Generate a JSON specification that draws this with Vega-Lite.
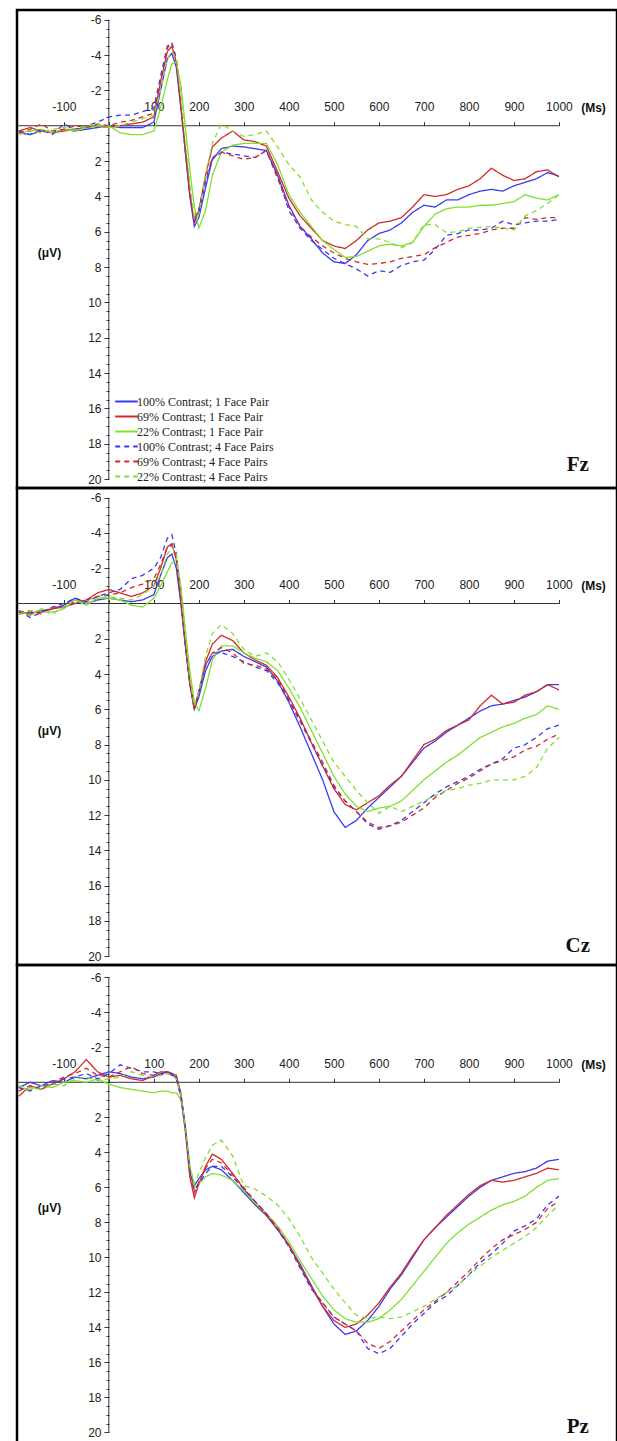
{
"$schema":"https://vega.github.io/schema/vega-lite/v6.json",
"padding":{"left":15,"top":8,"right":2,"bottom":0},
"spacing":0,
"bounds":"flush",
"background":"white",
"config":{"view":{"stroke":"#000","strokeWidth":2.5},"axis":{"labelFont":"Liberation Sans","labelFontSize":12,"labelColor":"#222","tickColor":"#333","grid":false,"titleFont":"Liberation Sans","titleFontSize":12,"titleFontWeight":"bold","titleColor":"#111"}},
"resolve":{"legend":{"color":"independent","strokeDash":"independent"}},
"datasets":{
"Fz":[
{"s":"b1","t":-200,"v":0.4},{"s":"b1","t":-175,"v":0.5},{"s":"b1","t":-150,"v":0.3},{"s":"b1","t":-125,"v":0.4},{"s":"b1","t":-100,"v":0.2},{"s":"b1","t":-75,"v":0.3},{"s":"b1","t":-50,"v":0.2},{"s":"b1","t":-25,"v":0.1},{"s":"b1","t":0,"v":0.0},{"s":"b1","t":25,"v":0.1},{"s":"b1","t":50,"v":0.1},{"s":"b1","t":75,"v":0.1},{"s":"b1","t":100,"v":-0.2},
{"s":"b1","t":115,"v":-2.0},{"s":"b1","t":130,"v":-3.8},{"s":"b1","t":140,"v":-4.1},{"s":"b1","t":150,"v":-3.3},{"s":"b1","t":160,"v":-1.0},{"s":"b1","t":170,"v":1.5},{"s":"b1","t":180,"v":4.0},{"s":"b1","t":190,"v":5.7},{"s":"b1","t":200,"v":5.2},{"s":"b1","t":215,"v":3.5},{"s":"b1","t":230,"v":1.9},
{"s":"b1","t":250,"v":1.3},{"s":"b1","t":275,"v":1.15},{"s":"b1","t":300,"v":1.2},{"s":"b1","t":325,"v":1.3},{"s":"b1","t":350,"v":1.4},{"s":"b1","t":375,"v":2.8},{"s":"b1","t":400,"v":4.5},{"s":"b1","t":425,"v":5.7},{"s":"b1","t":450,"v":6.4},{"s":"b1","t":475,"v":7.2},{"s":"b1","t":500,"v":7.7},{"s":"b1","t":525,"v":7.8},{"s":"b1","t":550,"v":7.3},{"s":"b1","t":575,"v":6.5},{"s":"b1","t":600,"v":6.1},{"s":"b1","t":625,"v":5.9},{"s":"b1","t":650,"v":5.5},{"s":"b1","t":675,"v":4.9},{"s":"b1","t":700,"v":4.5},{"s":"b1","t":725,"v":4.6},{"s":"b1","t":750,"v":4.2},{"s":"b1","t":775,"v":4.2},{"s":"b1","t":800,"v":3.9},{"s":"b1","t":825,"v":3.7},{"s":"b1","t":850,"v":3.6},{"s":"b1","t":875,"v":3.7},{"s":"b1","t":900,"v":3.4},{"s":"b1","t":925,"v":3.2},{"s":"b1","t":950,"v":3.0},{"s":"b1","t":975,"v":2.65},{"s":"b1","t":1000,"v":2.85},
{"s":"r1","t":-200,"v":0.3},{"s":"r1","t":-175,"v":0.1},{"s":"r1","t":-150,"v":0.3},{"s":"r1","t":-125,"v":0.4},{"s":"r1","t":-100,"v":0.3},{"s":"r1","t":-75,"v":0.2},{"s":"r1","t":-50,"v":0.1},{"s":"r1","t":-25,"v":0.0},{"s":"r1","t":0,"v":0.1},{"s":"r1","t":25,"v":0.0},{"s":"r1","t":50,"v":-0.1},{"s":"r1","t":75,"v":-0.2},{"s":"r1","t":100,"v":-0.5},
{"s":"r1","t":115,"v":-2.5},{"s":"r1","t":130,"v":-4.2},{"s":"r1","t":140,"v":-4.5},{"s":"r1","t":150,"v":-3.6},{"s":"r1","t":160,"v":-1.2},{"s":"r1","t":170,"v":1.3},{"s":"r1","t":180,"v":3.8},{"s":"r1","t":190,"v":5.5},{"s":"r1","t":200,"v":4.8},{"s":"r1","t":215,"v":2.8},{"s":"r1","t":230,"v":1.2},
{"s":"r1","t":250,"v":0.7},{"s":"r1","t":275,"v":0.3},{"s":"r1","t":300,"v":0.8},{"s":"r1","t":325,"v":0.9},{"s":"r1","t":350,"v":1.15},{"s":"r1","t":375,"v":2.6},{"s":"r1","t":400,"v":4.1},{"s":"r1","t":425,"v":5.1},{"s":"r1","t":450,"v":5.8},{"s":"r1","t":475,"v":6.5},{"s":"r1","t":500,"v":6.8},{"s":"r1","t":525,"v":6.95},{"s":"r1","t":550,"v":6.5},{"s":"r1","t":575,"v":5.9},{"s":"r1","t":600,"v":5.5},{"s":"r1","t":625,"v":5.4},{"s":"r1","t":650,"v":5.2},{"s":"r1","t":675,"v":4.6},{"s":"r1","t":700,"v":3.9},{"s":"r1","t":725,"v":4.0},{"s":"r1","t":750,"v":3.9},{"s":"r1","t":775,"v":3.6},{"s":"r1","t":800,"v":3.4},{"s":"r1","t":825,"v":3.0},{"s":"r1","t":850,"v":2.4},{"s":"r1","t":875,"v":2.8},{"s":"r1","t":900,"v":3.1},{"s":"r1","t":925,"v":3.0},{"s":"r1","t":950,"v":2.6},{"s":"r1","t":975,"v":2.5},{"s":"r1","t":1000,"v":2.9},
{"s":"g1","t":-200,"v":0.4},{"s":"g1","t":-175,"v":0.3},{"s":"g1","t":-150,"v":0.2},{"s":"g1","t":-125,"v":0.4},{"s":"g1","t":-100,"v":0.2},{"s":"g1","t":-75,"v":0.3},{"s":"g1","t":-50,"v":0.1},{"s":"g1","t":-25,"v":0.0},{"s":"g1","t":0,"v":0.0},{"s":"g1","t":25,"v":0.4},{"s":"g1","t":50,"v":0.5},{"s":"g1","t":75,"v":0.5},{"s":"g1","t":100,"v":0.3},
{"s":"g1","t":115,"v":-1.0},{"s":"g1","t":130,"v":-2.6},{"s":"g1","t":140,"v":-3.5},{"s":"g1","t":150,"v":-3.6},{"s":"g1","t":160,"v":-2.3},{"s":"g1","t":170,"v":0.0},{"s":"g1","t":180,"v":2.5},{"s":"g1","t":190,"v":4.6},{"s":"g1","t":200,"v":5.8},{"s":"g1","t":215,"v":4.8},{"s":"g1","t":230,"v":2.8},
{"s":"g1","t":250,"v":1.5},{"s":"g1","t":275,"v":1.1},{"s":"g1","t":300,"v":1.0},{"s":"g1","t":325,"v":1.0},{"s":"g1","t":350,"v":1.0},{"s":"g1","t":375,"v":2.2},{"s":"g1","t":400,"v":3.9},{"s":"g1","t":425,"v":4.9},{"s":"g1","t":450,"v":5.7},{"s":"g1","t":475,"v":6.5},{"s":"g1","t":500,"v":7.0},{"s":"g1","t":525,"v":7.45},{"s":"g1","t":550,"v":7.4},{"s":"g1","t":575,"v":7.1},{"s":"g1","t":600,"v":6.8},{"s":"g1","t":625,"v":6.7},{"s":"g1","t":650,"v":6.8},{"s":"g1","t":675,"v":6.6},{"s":"g1","t":700,"v":5.7},{"s":"g1","t":725,"v":5.0},{"s":"g1","t":750,"v":4.7},{"s":"g1","t":775,"v":4.6},{"s":"g1","t":800,"v":4.6},{"s":"g1","t":825,"v":4.5},{"s":"g1","t":850,"v":4.5},{"s":"g1","t":875,"v":4.4},{"s":"g1","t":900,"v":4.3},{"s":"g1","t":925,"v":3.9},{"s":"g1","t":950,"v":4.1},{"s":"g1","t":975,"v":4.2},{"s":"g1","t":1000,"v":3.9},
{"s":"b4","t":-200,"v":0.3},{"s":"b4","t":-175,"v":0.5},{"s":"b4","t":-150,"v":0.2},{"s":"b4","t":-125,"v":0.5},{"s":"b4","t":-100,"v":-0.1},{"s":"b4","t":-75,"v":0.2},{"s":"b4","t":-50,"v":0.0},{"s":"b4","t":-25,"v":-0.2},{"s":"b4","t":0,"v":-0.5},{"s":"b4","t":25,"v":-0.6},{"s":"b4","t":50,"v":-0.6},{"s":"b4","t":75,"v":-0.8},{"s":"b4","t":100,"v":-1.0},
{"s":"b4","t":115,"v":-2.8},{"s":"b4","t":130,"v":-4.5},{"s":"b4","t":140,"v":-4.7},{"s":"b4","t":150,"v":-3.8},{"s":"b4","t":160,"v":-1.2},{"s":"b4","t":170,"v":1.4},{"s":"b4","t":180,"v":3.8},{"s":"b4","t":190,"v":5.4},{"s":"b4","t":200,"v":4.9},{"s":"b4","t":215,"v":3.2},{"s":"b4","t":230,"v":1.9},
{"s":"b4","t":250,"v":1.5},{"s":"b4","t":275,"v":1.6},{"s":"b4","t":300,"v":1.7},{"s":"b4","t":325,"v":1.8},{"s":"b4","t":350,"v":1.4},{"s":"b4","t":375,"v":2.8},{"s":"b4","t":400,"v":4.8},{"s":"b4","t":425,"v":5.8},{"s":"b4","t":450,"v":6.5},{"s":"b4","t":475,"v":7.0},{"s":"b4","t":500,"v":7.5},{"s":"b4","t":525,"v":7.8},{"s":"b4","t":550,"v":8.1},{"s":"b4","t":575,"v":8.5},{"s":"b4","t":600,"v":8.2},{"s":"b4","t":625,"v":8.3},{"s":"b4","t":650,"v":7.9},{"s":"b4","t":675,"v":7.7},{"s":"b4","t":700,"v":7.6},{"s":"b4","t":725,"v":7.0},{"s":"b4","t":750,"v":6.2},{"s":"b4","t":775,"v":6.1},{"s":"b4","t":800,"v":5.9},{"s":"b4","t":825,"v":5.9},{"s":"b4","t":850,"v":5.8},{"s":"b4","t":875,"v":5.4},{"s":"b4","t":900,"v":5.6},{"s":"b4","t":925,"v":5.5},{"s":"b4","t":950,"v":5.4},{"s":"b4","t":975,"v":5.4},{"s":"b4","t":1000,"v":5.3},
{"s":"r4","t":-200,"v":0.4},{"s":"r4","t":-175,"v":0.2},{"s":"r4","t":-150,"v":-0.1},{"s":"r4","t":-125,"v":0.3},{"s":"r4","t":-100,"v":0.2},{"s":"r4","t":-75,"v":0.0},{"s":"r4","t":-50,"v":0.1},{"s":"r4","t":-25,"v":-0.1},{"s":"r4","t":0,"v":0.0},{"s":"r4","t":25,"v":-0.2},{"s":"r4","t":50,"v":-0.3},{"s":"r4","t":75,"v":-0.5},{"s":"r4","t":100,"v":-0.7},
{"s":"r4","t":115,"v":-2.5},{"s":"r4","t":130,"v":-4.4},{"s":"r4","t":140,"v":-4.7},{"s":"r4","t":150,"v":-3.7},{"s":"r4","t":160,"v":-1.1},{"s":"r4","t":170,"v":1.4},{"s":"r4","t":180,"v":3.9},{"s":"r4","t":190,"v":5.3},{"s":"r4","t":200,"v":4.7},{"s":"r4","t":215,"v":3.0},{"s":"r4","t":230,"v":1.8},
{"s":"r4","t":250,"v":1.5},{"s":"r4","t":275,"v":1.7},{"s":"r4","t":300,"v":1.9},{"s":"r4","t":325,"v":1.8},{"s":"r4","t":350,"v":1.4},{"s":"r4","t":375,"v":3.0},{"s":"r4","t":400,"v":4.6},{"s":"r4","t":425,"v":5.7},{"s":"r4","t":450,"v":6.3},{"s":"r4","t":475,"v":6.8},{"s":"r4","t":500,"v":7.2},{"s":"r4","t":525,"v":7.5},{"s":"r4","t":550,"v":7.7},{"s":"r4","t":575,"v":7.85},{"s":"r4","t":600,"v":7.8},{"s":"r4","t":625,"v":7.7},{"s":"r4","t":650,"v":7.5},{"s":"r4","t":675,"v":7.4},{"s":"r4","t":700,"v":7.3},{"s":"r4","t":725,"v":6.9},{"s":"r4","t":750,"v":6.6},{"s":"r4","t":775,"v":6.3},{"s":"r4","t":800,"v":6.2},{"s":"r4","t":825,"v":6.1},{"s":"r4","t":850,"v":5.9},{"s":"r4","t":875,"v":5.8},{"s":"r4","t":900,"v":5.8},{"s":"r4","t":925,"v":5.2},{"s":"r4","t":950,"v":5.3},{"s":"r4","t":975,"v":5.2},{"s":"r4","t":1000,"v":5.2},
{"s":"g4","t":-200,"v":0.5},{"s":"g4","t":-175,"v":0.3},{"s":"g4","t":-150,"v":0.4},{"s":"g4","t":-125,"v":0.2},{"s":"g4","t":-100,"v":0.1},{"s":"g4","t":-75,"v":0.2},{"s":"g4","t":-50,"v":0.0},{"s":"g4","t":-25,"v":-0.1},{"s":"g4","t":0,"v":0.1},{"s":"g4","t":25,"v":0.0},{"s":"g4","t":50,"v":-0.2},{"s":"g4","t":75,"v":-0.4},{"s":"g4","t":100,"v":-0.6},
{"s":"g4","t":115,"v":-2.0},{"s":"g4","t":130,"v":-3.8},{"s":"g4","t":140,"v":-4.2},{"s":"g4","t":150,"v":-3.8},{"s":"g4","t":160,"v":-1.8},{"s":"g4","t":170,"v":0.8},{"s":"g4","t":180,"v":3.3},{"s":"g4","t":190,"v":5.2},{"s":"g4","t":200,"v":5.0},{"s":"g4","t":215,"v":2.8},{"s":"g4","t":230,"v":1.0},
{"s":"g4","t":250,"v":-0.1},{"s":"g4","t":275,"v":0.3},{"s":"g4","t":300,"v":0.6},{"s":"g4","t":325,"v":0.5},{"s":"g4","t":350,"v":0.3},{"s":"g4","t":375,"v":1.2},{"s":"g4","t":400,"v":2.2},{"s":"g4","t":425,"v":2.9},{"s":"g4","t":450,"v":4.2},{"s":"g4","t":475,"v":4.9},{"s":"g4","t":500,"v":5.4},{"s":"g4","t":525,"v":5.6},{"s":"g4","t":550,"v":5.7},{"s":"g4","t":575,"v":6.4},{"s":"g4","t":600,"v":6.4},{"s":"g4","t":625,"v":6.6},{"s":"g4","t":650,"v":6.9},{"s":"g4","t":675,"v":6.6},{"s":"g4","t":700,"v":5.6},{"s":"g4","t":725,"v":5.6},{"s":"g4","t":750,"v":6.05},{"s":"g4","t":775,"v":6.0},{"s":"g4","t":800,"v":5.8},{"s":"g4","t":825,"v":5.75},{"s":"g4","t":850,"v":5.7},{"s":"g4","t":875,"v":5.8},{"s":"g4","t":900,"v":5.9},{"s":"g4","t":925,"v":5.1},{"s":"g4","t":950,"v":4.8},{"s":"g4","t":975,"v":4.4},{"s":"g4","t":1000,"v":3.9}
],
"Cz":[
{"s":"b1","t":-200,"v":0.5},{"s":"b1","t":-175,"v":0.6},{"s":"b1","t":-150,"v":0.4},{"s":"b1","t":-125,"v":0.3},{"s":"b1","t":-100,"v":0.1},{"s":"b1","t":-75,"v":-0.3},{"s":"b1","t":-50,"v":0.0},{"s":"b1","t":-25,"v":-0.2},{"s":"b1","t":0,"v":-0.3},{"s":"b1","t":25,"v":-0.2},{"s":"b1","t":50,"v":-0.1},{"s":"b1","t":75,"v":-0.2},{"s":"b1","t":100,"v":-0.5},
{"s":"b1","t":115,"v":-1.6},{"s":"b1","t":130,"v":-2.6},{"s":"b1","t":140,"v":-2.8},{"s":"b1","t":150,"v":-2.0},{"s":"b1","t":160,"v":0.0},{"s":"b1","t":170,"v":2.4},{"s":"b1","t":180,"v":4.6},{"s":"b1","t":190,"v":6.0},{"s":"b1","t":200,"v":5.3},{"s":"b1","t":215,"v":3.8},{"s":"b1","t":230,"v":3.0},
{"s":"b1","t":250,"v":2.7},{"s":"b1","t":275,"v":2.6},{"s":"b1","t":300,"v":3.0},{"s":"b1","t":325,"v":3.3},{"s":"b1","t":350,"v":3.6},{"s":"b1","t":375,"v":4.4},{"s":"b1","t":400,"v":5.6},{"s":"b1","t":425,"v":7.0},{"s":"b1","t":450,"v":8.5},{"s":"b1","t":475,"v":10.0},{"s":"b1","t":500,"v":11.8},{"s":"b1","t":525,"v":12.7},{"s":"b1","t":550,"v":12.3},{"s":"b1","t":575,"v":11.6},{"s":"b1","t":600,"v":11.0},{"s":"b1","t":625,"v":10.4},{"s":"b1","t":650,"v":9.8},{"s":"b1","t":675,"v":9.0},{"s":"b1","t":700,"v":8.2},{"s":"b1","t":725,"v":7.8},{"s":"b1","t":750,"v":7.3},{"s":"b1","t":775,"v":6.9},{"s":"b1","t":800,"v":6.5},{"s":"b1","t":825,"v":6.1},{"s":"b1","t":850,"v":5.8},{"s":"b1","t":875,"v":5.7},{"s":"b1","t":900,"v":5.5},{"s":"b1","t":925,"v":5.3},{"s":"b1","t":950,"v":5.0},{"s":"b1","t":975,"v":4.6},{"s":"b1","t":1000,"v":4.6},
{"s":"r1","t":-200,"v":0.6},{"s":"r1","t":-175,"v":0.5},{"s":"r1","t":-150,"v":0.5},{"s":"r1","t":-125,"v":0.3},{"s":"r1","t":-100,"v":0.2},{"s":"r1","t":-75,"v":0.0},{"s":"r1","t":-50,"v":-0.2},{"s":"r1","t":-25,"v":-0.6},{"s":"r1","t":0,"v":-0.8},{"s":"r1","t":25,"v":-0.6},{"s":"r1","t":50,"v":-0.4},{"s":"r1","t":75,"v":-0.6},{"s":"r1","t":100,"v":-1.0},
{"s":"r1","t":115,"v":-2.0},{"s":"r1","t":130,"v":-3.2},{"s":"r1","t":140,"v":-3.4},{"s":"r1","t":150,"v":-2.5},{"s":"r1","t":160,"v":-0.2},{"s":"r1","t":170,"v":2.3},{"s":"r1","t":180,"v":4.5},{"s":"r1","t":190,"v":6.0},{"s":"r1","t":200,"v":5.0},{"s":"r1","t":215,"v":3.3},{"s":"r1","t":230,"v":2.3},
{"s":"r1","t":250,"v":1.8},{"s":"r1","t":275,"v":2.1},{"s":"r1","t":300,"v":2.8},{"s":"r1","t":325,"v":3.2},{"s":"r1","t":350,"v":3.5},{"s":"r1","t":375,"v":4.2},{"s":"r1","t":400,"v":5.3},{"s":"r1","t":425,"v":6.5},{"s":"r1","t":450,"v":7.9},{"s":"r1","t":475,"v":9.2},{"s":"r1","t":500,"v":10.5},{"s":"r1","t":525,"v":11.4},{"s":"r1","t":550,"v":11.7},{"s":"r1","t":575,"v":11.3},{"s":"r1","t":600,"v":10.9},{"s":"r1","t":625,"v":10.3},{"s":"r1","t":650,"v":9.8},{"s":"r1","t":675,"v":8.9},{"s":"r1","t":700,"v":8.0},{"s":"r1","t":725,"v":7.7},{"s":"r1","t":750,"v":7.2},{"s":"r1","t":775,"v":6.9},{"s":"r1","t":800,"v":6.6},{"s":"r1","t":825,"v":5.8},{"s":"r1","t":850,"v":5.2},{"s":"r1","t":875,"v":5.7},{"s":"r1","t":900,"v":5.6},{"s":"r1","t":925,"v":5.2},{"s":"r1","t":950,"v":5.0},{"s":"r1","t":975,"v":4.6},{"s":"r1","t":1000,"v":4.9},
{"s":"g1","t":-200,"v":0.4},{"s":"g1","t":-175,"v":0.7},{"s":"g1","t":-150,"v":0.3},{"s":"g1","t":-125,"v":0.5},{"s":"g1","t":-100,"v":0.3},{"s":"g1","t":-75,"v":-0.2},{"s":"g1","t":-50,"v":0.1},{"s":"g1","t":-25,"v":-0.3},{"s":"g1","t":0,"v":-0.3},{"s":"g1","t":25,"v":-0.2},{"s":"g1","t":50,"v":0.1},{"s":"g1","t":75,"v":0.2},{"s":"g1","t":100,"v":-0.3},
{"s":"g1","t":115,"v":-1.0},{"s":"g1","t":130,"v":-1.8},{"s":"g1","t":140,"v":-2.3},{"s":"g1","t":150,"v":-2.5},{"s":"g1","t":160,"v":-1.0},{"s":"g1","t":170,"v":1.5},{"s":"g1","t":180,"v":3.8},{"s":"g1","t":190,"v":5.6},{"s":"g1","t":200,"v":6.1},{"s":"g1","t":215,"v":4.8},{"s":"g1","t":230,"v":3.2},
{"s":"g1","t":250,"v":2.4},{"s":"g1","t":275,"v":2.4},{"s":"g1","t":300,"v":2.8},{"s":"g1","t":325,"v":3.1},{"s":"g1","t":350,"v":3.3},{"s":"g1","t":375,"v":3.8},{"s":"g1","t":400,"v":4.8},{"s":"g1","t":425,"v":5.9},{"s":"g1","t":450,"v":7.2},{"s":"g1","t":475,"v":8.5},{"s":"g1","t":500,"v":9.8},{"s":"g1","t":525,"v":10.8},{"s":"g1","t":550,"v":11.5},{"s":"g1","t":575,"v":11.8},{"s":"g1","t":600,"v":11.6},{"s":"g1","t":625,"v":11.5},{"s":"g1","t":650,"v":11.2},{"s":"g1","t":675,"v":10.6},{"s":"g1","t":700,"v":10.0},{"s":"g1","t":725,"v":9.5},{"s":"g1","t":750,"v":9.0},{"s":"g1","t":775,"v":8.6},{"s":"g1","t":800,"v":8.1},{"s":"g1","t":825,"v":7.6},{"s":"g1","t":850,"v":7.3},{"s":"g1","t":875,"v":7.0},{"s":"g1","t":900,"v":6.8},{"s":"g1","t":925,"v":6.5},{"s":"g1","t":950,"v":6.3},{"s":"g1","t":975,"v":5.8},{"s":"g1","t":1000,"v":6.0},
{"s":"b4","t":-200,"v":0.4},{"s":"b4","t":-175,"v":0.8},{"s":"b4","t":-150,"v":0.5},{"s":"b4","t":-125,"v":0.2},{"s":"b4","t":-100,"v":0.0},{"s":"b4","t":-75,"v":-0.3},{"s":"b4","t":-50,"v":-0.1},{"s":"b4","t":-25,"v":-0.4},{"s":"b4","t":0,"v":-0.6},{"s":"b4","t":25,"v":-0.8},{"s":"b4","t":50,"v":-1.4},{"s":"b4","t":75,"v":-1.6},{"s":"b4","t":100,"v":-2.0},
{"s":"b4","t":115,"v":-2.6},{"s":"b4","t":130,"v":-3.7},{"s":"b4","t":140,"v":-3.9},{"s":"b4","t":150,"v":-2.8},{"s":"b4","t":160,"v":-0.3},{"s":"b4","t":170,"v":2.3},{"s":"b4","t":180,"v":4.5},{"s":"b4","t":190,"v":5.9},{"s":"b4","t":200,"v":5.0},{"s":"b4","t":215,"v":3.5},{"s":"b4","t":230,"v":2.8},
{"s":"b4","t":250,"v":2.8},{"s":"b4","t":275,"v":3.0},{"s":"b4","t":300,"v":3.3},{"s":"b4","t":325,"v":3.6},{"s":"b4","t":350,"v":3.8},{"s":"b4","t":375,"v":4.5},{"s":"b4","t":400,"v":5.5},{"s":"b4","t":425,"v":6.7},{"s":"b4","t":450,"v":7.9},{"s":"b4","t":475,"v":9.2},{"s":"b4","t":500,"v":10.4},{"s":"b4","t":525,"v":11.2},{"s":"b4","t":550,"v":11.8},{"s":"b4","t":575,"v":12.5},{"s":"b4","t":600,"v":12.8},{"s":"b4","t":625,"v":12.6},{"s":"b4","t":650,"v":12.3},{"s":"b4","t":675,"v":11.8},{"s":"b4","t":700,"v":11.3},{"s":"b4","t":725,"v":10.8},{"s":"b4","t":750,"v":10.4},{"s":"b4","t":775,"v":10.1},{"s":"b4","t":800,"v":9.8},{"s":"b4","t":825,"v":9.4},{"s":"b4","t":850,"v":9.1},{"s":"b4","t":875,"v":8.8},{"s":"b4","t":900,"v":8.2},{"s":"b4","t":925,"v":8.0},{"s":"b4","t":950,"v":7.6},{"s":"b4","t":975,"v":7.1},{"s":"b4","t":1000,"v":6.9},
{"s":"r4","t":-200,"v":0.5},{"s":"r4","t":-175,"v":0.4},{"s":"r4","t":-150,"v":0.6},{"s":"r4","t":-125,"v":0.2},{"s":"r4","t":-100,"v":0.2},{"s":"r4","t":-75,"v":-0.1},{"s":"r4","t":-50,"v":-0.2},{"s":"r4","t":-25,"v":-0.4},{"s":"r4","t":0,"v":-0.5},{"s":"r4","t":25,"v":-0.6},{"s":"r4","t":50,"v":-0.9},{"s":"r4","t":75,"v":-1.1},{"s":"r4","t":100,"v":-1.4},
{"s":"r4","t":115,"v":-2.2},{"s":"r4","t":130,"v":-3.2},{"s":"r4","t":140,"v":-3.3},{"s":"r4","t":150,"v":-2.6},{"s":"r4","t":160,"v":-0.3},{"s":"r4","t":170,"v":2.3},{"s":"r4","t":180,"v":4.5},{"s":"r4","t":190,"v":6.0},{"s":"r4","t":200,"v":5.0},{"s":"r4","t":215,"v":3.5},{"s":"r4","t":230,"v":2.8},
{"s":"r4","t":250,"v":2.5},{"s":"r4","t":275,"v":2.8},{"s":"r4","t":300,"v":3.4},{"s":"r4","t":325,"v":3.5},{"s":"r4","t":350,"v":3.7},{"s":"r4","t":375,"v":4.3},{"s":"r4","t":400,"v":5.4},{"s":"r4","t":425,"v":6.6},{"s":"r4","t":450,"v":7.8},{"s":"r4","t":475,"v":9.0},{"s":"r4","t":500,"v":10.3},{"s":"r4","t":525,"v":11.2},{"s":"r4","t":550,"v":11.8},{"s":"r4","t":575,"v":12.4},{"s":"r4","t":600,"v":12.7},{"s":"r4","t":625,"v":12.6},{"s":"r4","t":650,"v":12.4},{"s":"r4","t":675,"v":12.0},{"s":"r4","t":700,"v":11.6},{"s":"r4","t":725,"v":11.0},{"s":"r4","t":750,"v":10.6},{"s":"r4","t":775,"v":10.2},{"s":"r4","t":800,"v":9.9},{"s":"r4","t":825,"v":9.5},{"s":"r4","t":850,"v":9.1},{"s":"r4","t":875,"v":8.9},{"s":"r4","t":900,"v":8.7},{"s":"r4","t":925,"v":8.3},{"s":"r4","t":950,"v":8.1},{"s":"r4","t":975,"v":7.7},{"s":"r4","t":1000,"v":7.4},
{"s":"g4","t":-200,"v":0.6},{"s":"g4","t":-175,"v":0.4},{"s":"g4","t":-150,"v":0.4},{"s":"g4","t":-125,"v":0.6},{"s":"g4","t":-100,"v":0.2},{"s":"g4","t":-75,"v":-0.2},{"s":"g4","t":-50,"v":0.0},{"s":"g4","t":-25,"v":-0.3},{"s":"g4","t":0,"v":-0.4},{"s":"g4","t":25,"v":-0.3},{"s":"g4","t":50,"v":-0.2},{"s":"g4","t":75,"v":-0.5},{"s":"g4","t":100,"v":-1.0},
{"s":"g4","t":115,"v":-1.6},{"s":"g4","t":130,"v":-2.8},{"s":"g4","t":140,"v":-3.2},{"s":"g4","t":150,"v":-2.8},{"s":"g4","t":160,"v":-0.8},{"s":"g4","t":170,"v":1.8},{"s":"g4","t":180,"v":4.2},{"s":"g4","t":190,"v":5.8},{"s":"g4","t":200,"v":5.0},{"s":"g4","t":215,"v":3.0},{"s":"g4","t":230,"v":1.7},
{"s":"g4","t":250,"v":1.2},{"s":"g4","t":275,"v":1.7},{"s":"g4","t":300,"v":2.6},{"s":"g4","t":325,"v":3.0},{"s":"g4","t":350,"v":2.8},{"s":"g4","t":375,"v":3.3},{"s":"g4","t":400,"v":4.3},{"s":"g4","t":425,"v":5.4},{"s":"g4","t":450,"v":6.6},{"s":"g4","t":475,"v":7.8},{"s":"g4","t":500,"v":9.0},{"s":"g4","t":525,"v":9.8},{"s":"g4","t":550,"v":10.6},{"s":"g4","t":575,"v":11.3},{"s":"g4","t":600,"v":11.9},{"s":"g4","t":625,"v":11.5},{"s":"g4","t":650,"v":11.8},{"s":"g4","t":675,"v":11.5},{"s":"g4","t":700,"v":11.2},{"s":"g4","t":725,"v":10.9},{"s":"g4","t":750,"v":10.6},{"s":"g4","t":775,"v":10.5},{"s":"g4","t":800,"v":10.3},{"s":"g4","t":825,"v":10.2},{"s":"g4","t":850,"v":10.0},{"s":"g4","t":875,"v":10.0},{"s":"g4","t":900,"v":10.0},{"s":"g4","t":925,"v":9.8},{"s":"g4","t":950,"v":9.3},{"s":"g4","t":975,"v":8.2},{"s":"g4","t":1000,"v":7.6}
],
"Pz":[
{"s":"b1","t":-200,"v":0.3},{"s":"b1","t":-175,"v":0.0},{"s":"b1","t":-150,"v":0.2},{"s":"b1","t":-125,"v":-0.1},{"s":"b1","t":-100,"v":0.0},{"s":"b1","t":-75,"v":-0.3},{"s":"b1","t":-50,"v":-0.2},{"s":"b1","t":-25,"v":-0.4},{"s":"b1","t":0,"v":-0.6},{"s":"b1","t":25,"v":-0.5},{"s":"b1","t":50,"v":-0.3},{"s":"b1","t":75,"v":-0.2},{"s":"b1","t":100,"v":-0.3},
{"s":"b1","t":115,"v":-0.5},{"s":"b1","t":130,"v":-0.6},{"s":"b1","t":140,"v":-0.4},{"s":"b1","t":150,"v":-0.3},{"s":"b1","t":160,"v":0.6},{"s":"b1","t":170,"v":2.5},{"s":"b1","t":180,"v":5.0},{"s":"b1","t":190,"v":5.9},{"s":"b1","t":200,"v":5.5},{"s":"b1","t":215,"v":5.0},{"s":"b1","t":230,"v":4.8},
{"s":"b1","t":250,"v":5.0},{"s":"b1","t":275,"v":5.6},{"s":"b1","t":300,"v":6.3},{"s":"b1","t":325,"v":7.0},{"s":"b1","t":350,"v":7.6},{"s":"b1","t":375,"v":8.4},{"s":"b1","t":400,"v":9.3},{"s":"b1","t":425,"v":10.4},{"s":"b1","t":450,"v":11.6},{"s":"b1","t":475,"v":12.8},{"s":"b1","t":500,"v":13.8},{"s":"b1","t":525,"v":14.4},{"s":"b1","t":550,"v":14.2},{"s":"b1","t":575,"v":13.6},{"s":"b1","t":600,"v":12.8},{"s":"b1","t":625,"v":11.8},{"s":"b1","t":650,"v":11.0},{"s":"b1","t":675,"v":10.0},{"s":"b1","t":700,"v":9.0},{"s":"b1","t":725,"v":8.3},{"s":"b1","t":750,"v":7.7},{"s":"b1","t":775,"v":7.1},{"s":"b1","t":800,"v":6.5},{"s":"b1","t":825,"v":6.0},{"s":"b1","t":850,"v":5.6},{"s":"b1","t":875,"v":5.4},{"s":"b1","t":900,"v":5.2},{"s":"b1","t":925,"v":5.1},{"s":"b1","t":950,"v":4.9},{"s":"b1","t":975,"v":4.5},{"s":"b1","t":1000,"v":4.4},
{"s":"r1","t":-200,"v":0.8},{"s":"r1","t":-175,"v":0.2},{"s":"r1","t":-150,"v":0.4},{"s":"r1","t":-125,"v":0.1},{"s":"r1","t":-100,"v":-0.2},{"s":"r1","t":-75,"v":-0.6},{"s":"r1","t":-50,"v":-1.3},{"s":"r1","t":-25,"v":-0.6},{"s":"r1","t":0,"v":-0.3},{"s":"r1","t":25,"v":-0.4},{"s":"r1","t":50,"v":-0.2},{"s":"r1","t":75,"v":-0.1},{"s":"r1","t":100,"v":-0.4},
{"s":"r1","t":115,"v":-0.6},{"s":"r1","t":130,"v":-0.6},{"s":"r1","t":140,"v":-0.5},{"s":"r1","t":150,"v":-0.4},{"s":"r1","t":160,"v":0.7},{"s":"r1","t":170,"v":2.8},{"s":"r1","t":180,"v":5.4},{"s":"r1","t":190,"v":6.6},{"s":"r1","t":200,"v":5.8},{"s":"r1","t":215,"v":4.8},{"s":"r1","t":230,"v":4.1},
{"s":"r1","t":250,"v":4.4},{"s":"r1","t":275,"v":5.2},{"s":"r1","t":300,"v":6.1},{"s":"r1","t":325,"v":6.9},{"s":"r1","t":350,"v":7.6},{"s":"r1","t":375,"v":8.4},{"s":"r1","t":400,"v":9.3},{"s":"r1","t":425,"v":10.5},{"s":"r1","t":450,"v":11.7},{"s":"r1","t":475,"v":12.8},{"s":"r1","t":500,"v":13.6},{"s":"r1","t":525,"v":14.0},{"s":"r1","t":550,"v":13.8},{"s":"r1","t":575,"v":13.3},{"s":"r1","t":600,"v":12.6},{"s":"r1","t":625,"v":11.7},{"s":"r1","t":650,"v":10.9},{"s":"r1","t":675,"v":9.9},{"s":"r1","t":700,"v":9.0},{"s":"r1","t":725,"v":8.3},{"s":"r1","t":750,"v":7.6},{"s":"r1","t":775,"v":7.0},{"s":"r1","t":800,"v":6.4},{"s":"r1","t":825,"v":5.9},{"s":"r1","t":850,"v":5.6},{"s":"r1","t":875,"v":5.7},{"s":"r1","t":900,"v":5.6},{"s":"r1","t":925,"v":5.4},{"s":"r1","t":950,"v":5.2},{"s":"r1","t":975,"v":4.9},{"s":"r1","t":1000,"v":5.0},
{"s":"g1","t":-200,"v":0.3},{"s":"g1","t":-175,"v":0.4},{"s":"g1","t":-150,"v":0.2},{"s":"g1","t":-125,"v":0.3},{"s":"g1","t":-100,"v":0.0},{"s":"g1","t":-75,"v":-0.1},{"s":"g1","t":-50,"v":0.0},{"s":"g1","t":-25,"v":-0.2},{"s":"g1","t":0,"v":0.1},{"s":"g1","t":25,"v":0.3},{"s":"g1","t":50,"v":0.4},{"s":"g1","t":75,"v":0.5},{"s":"g1","t":100,"v":0.6},
{"s":"g1","t":115,"v":0.5},{"s":"g1","t":130,"v":0.5},{"s":"g1","t":140,"v":0.6},{"s":"g1","t":150,"v":0.6},{"s":"g1","t":160,"v":1.0},{"s":"g1","t":170,"v":2.6},{"s":"g1","t":180,"v":4.8},{"s":"g1","t":190,"v":6.0},{"s":"g1","t":200,"v":5.8},{"s":"g1","t":215,"v":5.4},{"s":"g1","t":230,"v":5.2},
{"s":"g1","t":250,"v":5.3},{"s":"g1","t":275,"v":5.6},{"s":"g1","t":300,"v":6.2},{"s":"g1","t":325,"v":6.9},{"s":"g1","t":350,"v":7.5},{"s":"g1","t":375,"v":8.2},{"s":"g1","t":400,"v":9.1},{"s":"g1","t":425,"v":10.2},{"s":"g1","t":450,"v":11.2},{"s":"g1","t":475,"v":12.2},{"s":"g1","t":500,"v":13.0},{"s":"g1","t":525,"v":13.5},{"s":"g1","t":550,"v":13.7},{"s":"g1","t":575,"v":13.7},{"s":"g1","t":600,"v":13.5},{"s":"g1","t":625,"v":13.0},{"s":"g1","t":650,"v":12.4},{"s":"g1","t":675,"v":11.6},{"s":"g1","t":700,"v":10.8},{"s":"g1","t":725,"v":10.0},{"s":"g1","t":750,"v":9.2},{"s":"g1","t":775,"v":8.6},{"s":"g1","t":800,"v":8.1},{"s":"g1","t":825,"v":7.7},{"s":"g1","t":850,"v":7.3},{"s":"g1","t":875,"v":7.0},{"s":"g1","t":900,"v":6.8},{"s":"g1","t":925,"v":6.5},{"s":"g1","t":950,"v":6.0},{"s":"g1","t":975,"v":5.6},{"s":"g1","t":1000,"v":5.5},
{"s":"b4","t":-200,"v":0.3},{"s":"b4","t":-175,"v":0.5},{"s":"b4","t":-150,"v":0.2},{"s":"b4","t":-125,"v":0.1},{"s":"b4","t":-100,"v":-0.2},{"s":"b4","t":-75,"v":-0.3},{"s":"b4","t":-50,"v":-0.5},{"s":"b4","t":-25,"v":-0.2},{"s":"b4","t":0,"v":-0.5},{"s":"b4","t":25,"v":-1.0},{"s":"b4","t":50,"v":-0.8},{"s":"b4","t":75,"v":-0.6},{"s":"b4","t":100,"v":-0.6},
{"s":"b4","t":115,"v":-0.5},{"s":"b4","t":130,"v":-0.6},{"s":"b4","t":140,"v":-0.5},{"s":"b4","t":150,"v":-0.2},{"s":"b4","t":160,"v":0.8},{"s":"b4","t":170,"v":2.6},{"s":"b4","t":180,"v":5.0},{"s":"b4","t":190,"v":6.2},{"s":"b4","t":200,"v":5.8},{"s":"b4","t":215,"v":5.2},{"s":"b4","t":230,"v":4.8},
{"s":"b4","t":250,"v":4.8},{"s":"b4","t":275,"v":5.4},{"s":"b4","t":300,"v":6.1},{"s":"b4","t":325,"v":6.8},{"s":"b4","t":350,"v":7.5},{"s":"b4","t":375,"v":8.4},{"s":"b4","t":400,"v":9.4},{"s":"b4","t":425,"v":10.6},{"s":"b4","t":450,"v":11.8},{"s":"b4","t":475,"v":12.6},{"s":"b4","t":500,"v":13.4},{"s":"b4","t":525,"v":13.8},{"s":"b4","t":550,"v":14.2},{"s":"b4","t":575,"v":15.2},{"s":"b4","t":600,"v":15.5},{"s":"b4","t":625,"v":15.2},{"s":"b4","t":650,"v":14.5},{"s":"b4","t":675,"v":13.8},{"s":"b4","t":700,"v":13.2},{"s":"b4","t":725,"v":12.6},{"s":"b4","t":750,"v":12.2},{"s":"b4","t":775,"v":11.6},{"s":"b4","t":800,"v":11.0},{"s":"b4","t":825,"v":10.3},{"s":"b4","t":850,"v":9.8},{"s":"b4","t":875,"v":9.2},{"s":"b4","t":900,"v":8.5},{"s":"b4","t":925,"v":8.2},{"s":"b4","t":950,"v":7.8},{"s":"b4","t":975,"v":7.0},{"s":"b4","t":1000,"v":6.5},
{"s":"r4","t":-200,"v":0.5},{"s":"r4","t":-175,"v":0.2},{"s":"r4","t":-150,"v":0.4},{"s":"r4","t":-125,"v":0.0},{"s":"r4","t":-100,"v":-0.3},{"s":"r4","t":-75,"v":-0.5},{"s":"r4","t":-50,"v":-0.8},{"s":"r4","t":-25,"v":-0.4},{"s":"r4","t":0,"v":-0.3},{"s":"r4","t":25,"v":-0.6},{"s":"r4","t":50,"v":-0.9},{"s":"r4","t":75,"v":-0.5},{"s":"r4","t":100,"v":-0.4},
{"s":"r4","t":115,"v":-0.4},{"s":"r4","t":130,"v":-0.6},{"s":"r4","t":140,"v":-0.5},{"s":"r4","t":150,"v":-0.2},{"s":"r4","t":160,"v":0.8},{"s":"r4","t":170,"v":2.7},{"s":"r4","t":180,"v":5.2},{"s":"r4","t":190,"v":6.3},{"s":"r4","t":200,"v":5.7},{"s":"r4","t":215,"v":4.9},{"s":"r4","t":230,"v":4.4},
{"s":"r4","t":250,"v":4.6},{"s":"r4","t":275,"v":5.3},{"s":"r4","t":300,"v":6.0},{"s":"r4","t":325,"v":6.8},{"s":"r4","t":350,"v":7.5},{"s":"r4","t":375,"v":8.3},{"s":"r4","t":400,"v":9.3},{"s":"r4","t":425,"v":10.5},{"s":"r4","t":450,"v":11.7},{"s":"r4","t":475,"v":12.6},{"s":"r4","t":500,"v":13.4},{"s":"r4","t":525,"v":13.8},{"s":"r4","t":550,"v":14.2},{"s":"r4","t":575,"v":14.9},{"s":"r4","t":600,"v":15.2},{"s":"r4","t":625,"v":14.8},{"s":"r4","t":650,"v":14.2},{"s":"r4","t":675,"v":13.6},{"s":"r4","t":700,"v":13.0},{"s":"r4","t":725,"v":12.5},{"s":"r4","t":750,"v":12.0},{"s":"r4","t":775,"v":11.4},{"s":"r4","t":800,"v":10.8},{"s":"r4","t":825,"v":10.1},{"s":"r4","t":850,"v":9.5},{"s":"r4","t":875,"v":9.0},{"s":"r4","t":900,"v":8.7},{"s":"r4","t":925,"v":8.4},{"s":"r4","t":950,"v":8.0},{"s":"r4","t":975,"v":7.2},{"s":"r4","t":1000,"v":6.8},
{"s":"g4","t":-200,"v":0.2},{"s":"g4","t":-175,"v":0.3},{"s":"g4","t":-150,"v":0.4},{"s":"g4","t":-125,"v":0.1},{"s":"g4","t":-100,"v":0.2},{"s":"g4","t":-75,"v":-0.2},{"s":"g4","t":-50,"v":-0.3},{"s":"g4","t":-25,"v":-0.1},{"s":"g4","t":0,"v":-0.2},{"s":"g4","t":25,"v":-0.3},{"s":"g4","t":50,"v":-0.6},{"s":"g4","t":75,"v":-0.4},{"s":"g4","t":100,"v":-0.3},
{"s":"g4","t":115,"v":-0.4},{"s":"g4","t":130,"v":-0.5},{"s":"g4","t":140,"v":-0.4},{"s":"g4","t":150,"v":-0.2},{"s":"g4","t":160,"v":0.7},{"s":"g4","t":170,"v":2.5},{"s":"g4","t":180,"v":4.8},{"s":"g4","t":190,"v":5.8},{"s":"g4","t":200,"v":5.2},{"s":"g4","t":215,"v":4.3},{"s":"g4","t":230,"v":3.6},
{"s":"g4","t":250,"v":3.3},{"s":"g4","t":275,"v":4.2},{"s":"g4","t":300,"v":5.9},{"s":"g4","t":325,"v":6.1},{"s":"g4","t":350,"v":6.5},{"s":"g4","t":375,"v":7.0},{"s":"g4","t":400,"v":7.8},{"s":"g4","t":425,"v":8.8},{"s":"g4","t":450,"v":10.0},{"s":"g4","t":475,"v":10.9},{"s":"g4","t":500,"v":11.8},{"s":"g4","t":525,"v":12.6},{"s":"g4","t":550,"v":13.3},{"s":"g4","t":575,"v":13.5},{"s":"g4","t":600,"v":13.4},{"s":"g4","t":625,"v":13.5},{"s":"g4","t":650,"v":13.4},{"s":"g4","t":675,"v":13.1},{"s":"g4","t":700,"v":12.8},{"s":"g4","t":725,"v":12.4},{"s":"g4","t":750,"v":12.0},{"s":"g4","t":775,"v":11.6},{"s":"g4","t":800,"v":11.0},{"s":"g4","t":825,"v":10.5},{"s":"g4","t":850,"v":10.0},{"s":"g4","t":875,"v":9.6},{"s":"g4","t":900,"v":9.2},{"s":"g4","t":925,"v":8.8},{"s":"g4","t":950,"v":8.3},{"s":"g4","t":975,"v":7.6},{"s":"g4","t":1000,"v":7.0}
]
},
"vconcat":[
{"width":600,"height":478,
 "layer":[
  {"data":{"values":[{}]},"mark":{"type":"rule","color":"#333","strokeWidth":1},"encoding":{"x":{"datum":-204,"type":"quantitative"},"x2":{"datum":1000},"y":{"datum":0,"type":"quantitative"}}},
  {"data":{"values":[{}]},"mark":{"type":"rule","color":"#333","strokeWidth":1},"encoding":{"x":{"datum":0,"type":"quantitative"},"y":{"datum":-6,"type":"quantitative"},"y2":{"datum":20}}},
  {"data":{"name":"Fz"},"mark":{"type":"line","strokeWidth":1.3,"clip":true},
   "encoding":{
    "x":{"field":"t","type":"quantitative","scale":{"domain":[-204,1129],"nice":false,"zero":false},
     "axis":{"orient":"top","offset":-115.7,"values":[-100,0,100,200,300,400,500,600,700,800,900,1000],"tickCount":200,"domain":false,"tickSize":4,"labelPadding":8,"labelExpr":"datum.value === 0 ? '' : '' + datum.value","labelOverlap":false,"labelFlush":false,"title":"(Ms)","titleX":576,"titleY":-18,"titleAlign":"center","titleBaseline":"middle"}},
    "y":{"field":"v","type":"quantitative","scale":{"domain":[-6.55,20.5],"reverse":true,"nice":false,"zero":false},
     "axis":{"orient":"left","offset":-92,"values":[-6,-5.5,-5,-4.5,-4,-3.5,-3,-2.5,-2,-1.5,-1,-0.5,0.5,1,1.5,2,2.5,3,3.5,4,4.5,5,5.5,6,6.5,7,7.5,8,8.5,9,9.5,10,10.5,11,11.5,12,12.5,13,13.5,14,14.5,15,15.5,16,16.5,17,17.5,18,18.5,19,19.5,20],"tickCount":200,"domain":false,"tickSize":{"condition":{"test":"datum.value % 2 === 0","value":5},"value":3},"labelPadding":3,"labelExpr":"datum.value % 2 === 0 ? '' + datum.value : ''","labelOverlap":false,"labelFlush":false,"title":"(μV)","titleAngle":0,"titleX":-60,"titleY":242,"titleAlign":"center","titleBaseline":"middle"}},
    "color":{"field":"s","type":"nominal","scale":{"domain":["b1","r1","g1","b4","r4","g4"],"range":["#3a3af2","#d22b2b","#80e030","#3a3af2","#d22b2b","#80e030"]},
     "legend":{"orient":"none","legendX":101,"legendY":383,"title":null,"symbolType":"M-1.6,0H1.6","symbolStrokeWidth":2,"symbolSize":200,"labelFont":"Liberation Serif","labelFontSize":12,"labelColor":"#222","labelOffset":2,"rowPadding":0,"padding":0,
      "labelExpr":"datum.label == 'b1' ? '100% Contrast; 1 Face Pair' : datum.label == 'r1' ? '69% Contrast; 1 Face Pair' : datum.label == 'g1' ? '22% Contrast; 1 Face Pair' : datum.label == 'b4' ? '100% Contrast; 4 Face Pairs' : datum.label == 'r4' ? '69% Contrast; 4 Face Pairs' : '22% Contrast; 4 Face Pairs'"}},
    "strokeDash":{"field":"s","type":"nominal","scale":{"domain":["b1","r1","g1","b4","r4","g4"],"range":[[1,0],[1,0],[1,0],[5,4],[5,4],[5,4]]},
     "legend":{"orient":"none","legendX":101,"legendY":383,"title":null,"symbolType":"M-1.6,0H1.6","symbolStrokeWidth":2,"symbolSize":200,"labelFont":"Liberation Serif","labelFontSize":12,"labelColor":"#222","labelOffset":2,"rowPadding":0,"padding":0,
      "labelExpr":"datum.label == 'b1' ? '100% Contrast; 1 Face Pair' : datum.label == 'r1' ? '69% Contrast; 1 Face Pair' : datum.label == 'g1' ? '22% Contrast; 1 Face Pair' : datum.label == 'b4' ? '100% Contrast; 4 Face Pairs' : datum.label == 'r4' ? '69% Contrast; 4 Face Pairs' : '22% Contrast; 4 Face Pairs'"}}
   }},
  {"data":{"values":[{}]},"mark":{"type":"text","text":"Fz","font":"Liberation Serif","fontSize":21,"fontWeight":"bold","align":"center","baseline":"middle","color":"#111"},"encoding":{"x":{"datum":1042,"type":"quantitative"},"y":{"datum":19.2,"type":"quantitative"}}}
 ]},
{"width":600,"height":477,
 "layer":[
  {"data":{"values":[{}]},"mark":{"type":"rule","color":"#333","strokeWidth":1},"encoding":{"x":{"datum":-204,"type":"quantitative"},"x2":{"datum":1000},"y":{"datum":0,"type":"quantitative"}}},
  {"data":{"values":[{}]},"mark":{"type":"rule","color":"#333","strokeWidth":1},"encoding":{"x":{"datum":0,"type":"quantitative"},"y":{"datum":-6,"type":"quantitative"},"y2":{"datum":20}}},
  {"data":{"name":"Cz"},"mark":{"type":"line","strokeWidth":1.3,"clip":true},
   "encoding":{
    "x":{"field":"t","type":"quantitative","scale":{"domain":[-204,1129],"nice":false,"zero":false},
     "axis":{"orient":"top","offset":-115.5,"values":[-100,0,100,200,300,400,500,600,700,800,900,1000],"tickCount":200,"domain":false,"tickSize":4,"labelPadding":8,"labelExpr":"datum.value === 0 ? '' : '' + datum.value","labelOverlap":false,"labelFlush":false,"title":"(Ms)","titleX":576,"titleY":-18,"titleAlign":"center","titleBaseline":"middle"}},
    "y":{"field":"v","type":"quantitative","scale":{"domain":[-6.55,20.5],"reverse":true,"nice":false,"zero":false},
     "axis":{"orient":"left","offset":-92,"values":[-6,-5.5,-5,-4.5,-4,-3.5,-3,-2.5,-2,-1.5,-1,-0.5,0.5,1,1.5,2,2.5,3,3.5,4,4.5,5,5.5,6,6.5,7,7.5,8,8.5,9,9.5,10,10.5,11,11.5,12,12.5,13,13.5,14,14.5,15,15.5,16,16.5,17,17.5,18,18.5,19,19.5,20],"tickCount":200,"domain":false,"tickSize":{"condition":{"test":"datum.value % 2 === 0","value":5},"value":3},"labelPadding":3,"labelExpr":"datum.value % 2 === 0 ? '' + datum.value : ''","labelOverlap":false,"labelFlush":false,"title":"(μV)","titleAngle":0,"titleX":-60,"titleY":242,"titleAlign":"center","titleBaseline":"middle"}},
    "color":{"field":"s","type":"nominal","scale":{"domain":["b1","r1","g1","b4","r4","g4"],"range":["#3a3af2","#d22b2b","#80e030","#3a3af2","#d22b2b","#80e030"]},"legend":null},
    "strokeDash":{"field":"s","type":"nominal","scale":{"domain":["b1","r1","g1","b4","r4","g4"],"range":[[1,0],[1,0],[1,0],[5,4],[5,4],[5,4]]},"legend":null}
   }},
  {"data":{"values":[{}]},"mark":{"type":"text","text":"Cz","font":"Liberation Serif","fontSize":21,"fontWeight":"bold","align":"center","baseline":"middle","color":"#111"},"encoding":{"x":{"datum":1042,"type":"quantitative"},"y":{"datum":19.4,"type":"quantitative"}}}
 ]},
{"width":600,"height":478,
 "layer":[
  {"data":{"values":[{}]},"mark":{"type":"rule","color":"#333","strokeWidth":1},"encoding":{"x":{"datum":-204,"type":"quantitative"},"x2":{"datum":1000},"y":{"datum":0,"type":"quantitative"}}},
  {"data":{"values":[{}]},"mark":{"type":"rule","color":"#333","strokeWidth":1},"encoding":{"x":{"datum":0,"type":"quantitative"},"y":{"datum":-6,"type":"quantitative"},"y2":{"datum":20}}},
  {"data":{"name":"Pz"},"mark":{"type":"line","strokeWidth":1.3,"clip":true},
   "encoding":{
    "x":{"field":"t","type":"quantitative","scale":{"domain":[-204,1129],"nice":false,"zero":false},
     "axis":{"orient":"top","offset":-117.3,"values":[-100,0,100,200,300,400,500,600,700,800,900,1000],"tickCount":200,"domain":false,"tickSize":4,"labelPadding":8,"labelExpr":"datum.value === 0 ? '' : '' + datum.value","labelOverlap":false,"labelFlush":false,"title":"(Ms)","titleX":576,"titleY":-18,"titleAlign":"center","titleBaseline":"middle"}},
    "y":{"field":"v","type":"quantitative","scale":{"domain":[-6.7,20.6],"reverse":true,"nice":false,"zero":false},
     "axis":{"orient":"left","offset":-92,"values":[-6,-5.5,-5,-4.5,-4,-3.5,-3,-2.5,-2,-1.5,-1,-0.5,0.5,1,1.5,2,2.5,3,3.5,4,4.5,5,5.5,6,6.5,7,7.5,8,8.5,9,9.5,10,10.5,11,11.5,12,12.5,13,13.5,14,14.5,15,15.5,16,16.5,17,17.5,18,18.5,19,19.5,20],"tickCount":200,"domain":false,"tickSize":{"condition":{"test":"datum.value % 2 === 0","value":5},"value":3},"labelPadding":3,"labelExpr":"datum.value % 2 === 0 ? '' + datum.value : ''","labelOverlap":false,"labelFlush":false,"title":"(μV)","titleAngle":0,"titleX":-60,"titleY":242,"titleAlign":"center","titleBaseline":"middle"}},
    "color":{"field":"s","type":"nominal","scale":{"domain":["b1","r1","g1","b4","r4","g4"],"range":["#3a3af2","#d22b2b","#80e030","#3a3af2","#d22b2b","#80e030"]},"legend":null},
    "strokeDash":{"field":"s","type":"nominal","scale":{"domain":["b1","r1","g1","b4","r4","g4"],"range":[[1,0],[1,0],[1,0],[5,4],[5,4],[5,4]]},"legend":null}
   }},
  {"data":{"values":[{}]},"mark":{"type":"text","text":"Pz","font":"Liberation Serif","fontSize":21,"fontWeight":"bold","align":"center","baseline":"middle","color":"#111"},"encoding":{"x":{"datum":1042,"type":"quantitative"},"y":{"datum":19.7,"type":"quantitative"}}}
 ]}
]
}
